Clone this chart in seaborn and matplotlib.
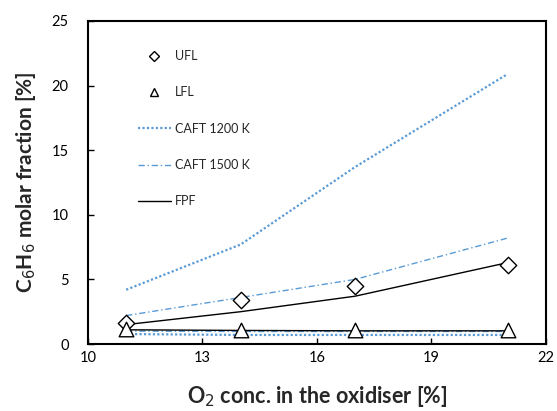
import matplotlib
matplotlib.use("Agg")
import matplotlib.pyplot as plt
import seaborn as sns
import pandas as pd
from matplotlib.lines import Line2D

sns.set_theme(style="white")
plt.rcParams['font.family'] = ['Lato', 'DejaVu Sans']

o2 = [11, 14, 17, 21]
ufl = [1.6, 3.4, 4.5, 6.1]
lfl = [1.2, 1.1, 1.1, 1.1]
caft1200_up = [4.2, 7.7, 13.7, 20.9]
caft1200_low = [0.77, 0.7, 0.7, 0.7]
caft1500_up = [2.2, 3.6, 5.0, 8.2]
caft1500_low = [1.0, 0.97, 0.97, 0.97]
fpf_up = [1.5, 2.5, 3.7, 6.3]
fpf_low = [1.1, 1.05, 1.02, 1.02]

blue = "#5B9BD5"
dot = (0, (1, 1))
dashdot = (0, (4.5, 2, 1, 2))

fig = plt.figure(figsize=(5.57, 4.11), dpi=100)
ax = fig.add_axes([0.158, 0.163, 0.822, 0.786])

def line(y, **kw):
    sns.lineplot(x=o2, y=y, ax=ax, legend=False, **kw)

line(caft1200_up, color=blue, linestyle=dot, linewidth=1.6)
line(caft1200_low, color=blue, linestyle=dot, linewidth=1.6)
line(caft1500_up, color=blue, linestyle=dashdot, linewidth=1)
line(caft1500_low, color=blue, linestyle=dashdot, linewidth=1)
line(fpf_up, color="black", linewidth=1)
line(fpf_low, color="black", linewidth=1)

sns.scatterplot(x=o2, y=ufl, ax=ax, marker="D", s=70, facecolor="white",
                edgecolor="black", linewidth=1, zorder=5)
sns.scatterplot(x=o2, y=lfl, ax=ax, marker="^", s=110, facecolor="white",
                edgecolor="black", linewidth=1, zorder=5)

ax.set_xlim(10, 22)
ax.set_ylim(0, 25)
ax.set_xticks([10, 13, 16, 19, 22])
ax.set_yticks([0, 5, 10, 15, 20, 25])
ax.tick_params(axis="both", direction="in", length=4, width=1, labelsize=10.5,
               colors="black", left=True, bottom=True)
ax.tick_params(axis="x", pad=5)
ax.tick_params(axis="y", pad=14)
for s in ax.spines.values():
    s.set_color("black")
    s.set_linewidth(1.5)

ax.set_xlabel("O$_2$ conc. in the oxidiser [%]", fontsize=15.5, fontweight="bold", labelpad=14)
ax.set_ylabel("C$_6$H$_6$ molar fraction [%]", fontsize=15, fontweight="bold", labelpad=10)

handles = [
    Line2D([], [], marker="D", linestyle="none", markersize=5, markerfacecolor="white",
           markeredgecolor="black", markeredgewidth=1),
    Line2D([], [], marker="^", linestyle="none", markersize=6, markerfacecolor="white",
           markeredgecolor="black", markeredgewidth=1),
    Line2D([], [], color=blue, linestyle=dot, linewidth=1.6),
    Line2D([], [], color=blue, linestyle=dashdot, linewidth=1),
    Line2D([], [], color="black", linewidth=1),
]
labels = ["UFL", "LFL", "CAFT 1200 K", "CAFT 1500 K", "FPF"]
ax.legend(handles, labels, loc="upper left", bbox_to_anchor=(0.085, 0.945), frameon=False,
          fontsize=9, labelspacing=1.95, handlelength=2.6, handletextpad=0.35)

fig.savefig("out.png", dpi=100)
